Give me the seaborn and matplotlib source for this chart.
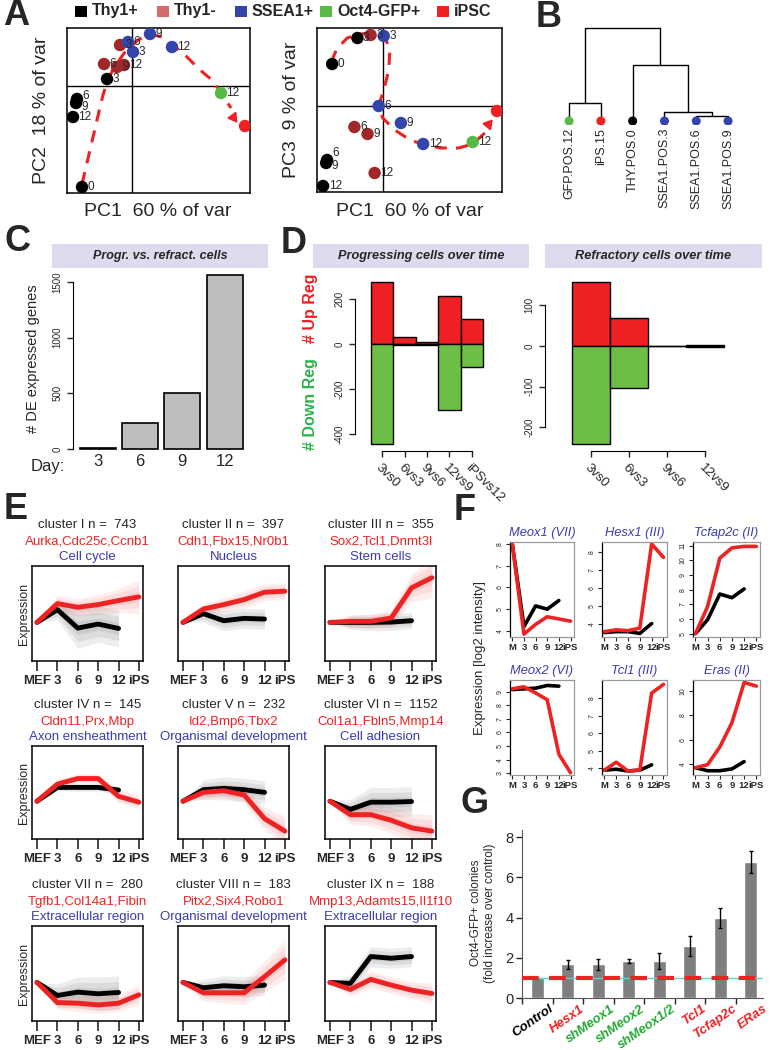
import numpy as np
import pandas as pd
import matplotlib
matplotlib.use('Agg')
import matplotlib.pyplot as plt
from matplotlib.patches import Rectangle
import seaborn as sns

sns.set_style('white')
plt.rcParams['font.family'] = ['Liberation Sans', 'DejaVu Sans']

# ---- A: PCA ----
pca_groups = ['Thy1+', 'Thy1-', 'SSEA1+', 'Oct4-GFP+', 'iPSC']
pca_legend_colors = ['#000000', '#d46a6a', '#3344aa', '#55bb44', '#ee2222']
pca_point_colors = ['#000000', '#a0282a', '#3344aa', '#55bb44', '#ee2222']
pca_group = ['Thy1+'] * 5 + ['Thy1-'] * 4 + ['SSEA1+'] * 4 + ['Oct4-GFP+', 'iPSC']
pca_label = ['0', '3', '6', '9', '12', '3', '6', '9', '12', '3', '6', '9', '12', '12', '']
pc1 = [-5.0, -2.5, -5.5, -5.6, -5.9, -1.2, -2.8, -1.5, -0.8, 0.1, -0.4, 1.8, 4.0, 8.9, 11.3]
pc2 = [-10.1, 0.7, -1.3, -1.7, -3.1, 4.1, 2.2, 1.9, 2.1, 3.4, 4.4, 5.2, 3.9, -0.7, -4.0]
pc3 = [4.2, 6.8, -5.4, -5.7, -8.0, 7.1, -2.1, -2.8, -6.7, 7.0, 0.0, -1.7, -3.8, -3.6, -0.5]
traj2_x = [-5.0, -4.2, -3.5, -2.9, -2.4, -1.7, -0.7, 0.6, 1.8, 3.0, 4.1, 5.5, 6.8, 8.0, 8.9, 9.9]
traj2_y = [-9.8, -6.4, -3.4, -0.9, 0.7, 2.0, 3.4, 4.6, 5.2, 4.9, 4.1, 2.9, 1.6, 0.6, -0.7, -2.2]
traj3_x = [-5.1, -4.5, -3.5, -2.3, -0.8, 0.2, 0.7, 0.6, 0.1, -0.4, 0.0, 1.2, 2.7, 3.9, 5.7, 7.5, 8.9, 10.1]
traj3_y = [4.4, 5.8, 6.8, 7.2, 7.3, 7.0, 5.6, 3.6, 1.6, 0.0, -1.2, -2.4, -3.4, -3.8, -4.2, -4.2, -3.8, -2.7]

# ---- B: dendrogram ----
dend_leaves = ['GFP.POS.12', 'iPS.15', 'THY.POS.0', 'SSEA1.POS.3', 'SSEA1.POS.6', 'SSEA1.POS.9']
dend_leaf_colors = ['#55bb44', '#ee2222', '#000000', '#3344aa', '#3344aa', '#3344aa']
dend_merges = [(4, 5, 5), (3, 6, 9), (0, 1, 18), (2, 7, 56), (8, 9, 93)]

# ---- C: DE genes ----
c_days = ['3', '6', '9', '12']
c_counts = [10, 233, 503, 1563]

# ---- D: up / down regulated ----
d_prog_labels = ['3vs0', '6vs3', '9vs6', '12vs9', 'iPSvs12']
d_prog_up = [276, 31, 10, 213, 111]
d_prog_down = [-444, -3, -5, -293, -102]
d_refr_labels = ['3vs0', '6vs3', '9vs6', '12vs9']
d_refr_up = [158, 69, 0, 3]
d_refr_down = [-242, -104, 0, -3]

# ---- E: clusters ----
e_times = ['MEF', '3', '6', '9', '12', 'iPS']
e_titles = ['cluster I n =  743', 'cluster II n =  397', 'cluster III n =  355',
            'cluster IV n =  145', 'cluster V n =  232', 'cluster VI n =  1152',
            'cluster VII n =  280', 'cluster VIII n =  183', 'cluster IX n =  188']
e_genes = ['Aurka,Cdc25c,Ccnb1', 'Cdh1,Fbx15,Nr0b1', 'Sox2,Tcl1,Dnmt3l',
           'Cldn11,Prx,Mbp', 'Id2,Bmp6,Tbx2', 'Col1a1,Fbln5,Mmp14',
           'Tgfb1,Col14a1,Fibin', 'Pitx2,Six4,Robo1', 'Mmp13,Adamts15,Il1f10']
e_terms = ['Cell cycle', 'Nucleus', 'Stem cells', 'Axon ensheathment', 'Organismal development',
           'Cell adhesion', 'Extracellular region', 'Organismal development', 'Extracellular region']
e_refr = [[0, 38, -17, -5, -18], [0, 26, 5, 12, 10], [0, 0, 0, 1, 5],
          [0, 42, 42, 42, 34], [0, 35, 39, 35, 27], [0, -25, -3, -3, -1],
          [0, -39, -29, -34, -30], [0, -16, -10, -13, -8], [0, -3, 77, 72, 77]]
e_prog = [[0, 56, 45, 53, 65, 76], [0, 40, 53, 68, 90, 93], [0, 3, 3, 13, 103, 133],
          [0, 52, 69, 69, 15, -3], [0, 27, 32, 19, -53, -91], [0, -41, -41, -58, -81, -91],
          [0, -60, -62, -67, -62, -37], [0, -31, -31, -31, 17, 67], [0, -21, 9, -8, -23, -33]]
e_refr_spread = [[0, 30, 60, 55, 55], [0, 25, 30, 30, 30], [0, 20, 25, 25, 25],
                 [0, 10, 12, 12, 12], [0, 30, 35, 35, 35], [0, 30, 45, 45, 45],
                 [0, 35, 45, 50, 50], [0, 25, 30, 30, 30], [0, 25, 30, 30, 30]]
e_prog_spread = [[0, 25, 25, 30, 35, 50], [0, 15, 20, 25, 25, 25], [0, 20, 20, 25, 40, 60],
                 [0, 15, 15, 15, 20, 20], [0, 20, 20, 25, 35, 45], [0, 30, 35, 40, 45, 50],
                 [0, 20, 25, 25, 25, 30], [0, 25, 30, 35, 45, 60], [0, 20, 25, 25, 25, 30]]

# ---- F: single genes ----
f_times = ['M', '3', '6', '9', '12', 'iPS']
f_genes = ['Meox1 (VII)', 'Hesx1 (III)', 'Tcfap2c (II)', 'Meox2 (VI)', 'Tcl1 (III)', 'Eras (II)']
f_prog = [[8.0, 3.85, 4.3, 4.65, 4.55, 4.45], [3.55, 3.65, 3.6, 3.75, 8.45, 7.7],
          [5.0, 6.85, 10.15, 10.85, 10.95, 10.95], [9.2, 9.35, 8.9, 8.4, 4.4, 3.05],
          [3.9, 4.35, 3.85, 3.9, 8.3, 8.8], [3.7, 3.95, 5.4, 7.4, 10.7, 10.4]]
f_refr = [[8.0, 4.2, 5.15, 5.0, 5.4], [3.5, 3.55, 3.55, 3.45, 4.0], [5.0, 5.95, 7.7, 7.45, 8.05],
          [9.15, 9.2, 9.25, 9.45, 9.4], [3.9, 3.95, 3.85, 3.9, 4.2], [3.7, 3.45, 3.45, 3.6, 4.2]]
f_ylim = [(3.72, 8.09), (3.25, 8.56), (4.77, 11.25), (2.88, 9.85), (3.62, 9.05), (3.1, 10.9)]
f_yticks = [[4, 5, 6, 7, 8], [4, 5, 6, 7, 8], [5, 6, 7, 8, 9, 10, 11],
            [3, 4, 5, 6, 7, 8, 9], [4, 5, 6, 7, 8], [4, 6, 8, 10]]

# ---- G: colony assay ----
g_names = ['Control', 'Hesx1', 'shMeox1', 'shMeox2', 'shMeox1/2', 'Tcl1', 'Tcfap2c', 'ERas']
g_fold = [1.0, 1.67, 1.68, 1.82, 1.82, 2.57, 3.96, 6.77]
g_err = [0, 0.21, 0.28, 0.1, 0.4, 0.5, 0.5, 0.56]
g_label_colors = ['black', '#ee2222', '#22aa33', '#22aa33', '#22aa33', '#ee2222', '#ee2222', '#ee2222']

RED = '#ee2222'
BLUE = '#3b3bb0'
STRIP = '#dcdcee'

W, H = 774, 1050
fig = plt.figure(figsize=(W / 100, H / 100), dpi=100)


def px_axes(x0, y0, x1, y1):
    return fig.add_axes([x0 / W, 1 - y1 / H, (x1 - x0) / W, (y1 - y0) / H])


def px_text(x, y, s, **kw):
    fig.text(x / W, 1 - y / H, s, **kw)


def px_rect(x0, y0, x1, y1, color):
    fig.add_artist(Rectangle((x0 / W, 1 - y1 / H), (x1 - x0) / W, (y1 - y0) / H,
                             transform=fig.transFigure, color=color, lw=0))


# panel letters
for letter, x, y in [('A', 3, -2), ('B', 536, 0), ('C', 4, 224), ('D', 281, 226),
                     ('E', 4, 492), ('F', 454, 493), ('G', 461, 786)]:
    px_text(x, y, letter, fontsize=26, fontweight='bold', va='top', ha='left')

# ---------------- A ----------------
for g, c, x in zip(pca_groups, pca_legend_colors, [75, 157, 235, 320, 437]):
    px_rect(x, 6, x + 12, 17, c)
    px_text(x + 17, 11, g, fontsize=11.5, fontweight='bold', va='center')

df_pca = pd.DataFrame(dict(group=pca_group, label=pca_label, pc1=pc1, pc2=pc2, pc3=pc3))
pal = dict(zip(pca_groups, pca_point_colors))
pca_setup = [((67, 28, 250, 193), 'pc2', traj2_x, traj2_y, (10.1, -3.1, -144), (-10.7, 5.8),
              {2: 0.35, 3: -0.35}),
             ((317, 28, 502, 192), 'pc3', traj3_x, traj3_y, (10.4, -1.8, -40), (-8.6, 7.8),
              {2: 0.7, 3: -0.3})]
for box, ycol, tx, ty, arrow, ylim, nudge in pca_setup:
    ax = px_axes(*box)
    ax.plot(tx, ty, color=RED, lw=2.2, dashes=(4, 3), zorder=2)
    ax.plot(arrow[0], arrow[1], marker=(3, 0, arrow[2]), ms=8, color=RED, zorder=2)
    ax.axhline(0, color='black', lw=1, zorder=1)
    ax.axvline(0, color='black', lw=1, zorder=1)
    sns.scatterplot(data=df_pca, x='pc1', y=ycol, hue='group', palette=pal, s=80,
                    edgecolor='none', legend=False, ax=ax, zorder=3)
    for i, row in df_pca.iterrows():
        ax.text(row['pc1'] + 0.55, row[ycol] + nudge.get(i, 0), row['label'], fontsize=8.5,
                va='center')
    ax.set_xlim(-6.5, 11.8)
    ax.set_ylim(*ylim)
    ax.set_xticks([])
    ax.set_yticks([])
    ax.set_xlabel('')
    ax.set_ylabel('')
    for s in ax.spines.values():
        s.set_color('black')
        s.set_linewidth(1.1)
px_text(158, 211, 'PC1  60 % of var', fontsize=14, ha='center', va='center')
px_text(410, 211, 'PC1  60 % of var', fontsize=14, ha='center', va='center')
px_text(42, 110, 'PC2  18 % of var', fontsize=14, ha='center', va='center', rotation=90)
px_text(292, 110, 'PC3  9 % of var', fontsize=14, ha='center', va='center', rotation=90)

# ---------------- B ----------------
ax = px_axes(550, 20, 750, 125)
node_x = list(range(len(dend_leaves)))
node_h = [0] * len(dend_leaves)
for a, b, h in dend_merges:
    ax.plot([node_x[a], node_x[a], node_x[b], node_x[b]], [node_h[a], h, h, node_h[b]],
            color='black', lw=1)
    node_x.append((node_x[a] + node_x[b]) / 2)
    node_h.append(h)
ax.scatter(range(len(dend_leaves)), [0] * len(dend_leaves), c=dend_leaf_colors, s=30, zorder=3)
for i, lab in enumerate(dend_leaves):
    ax.text(i, -7, lab, rotation=90, ha='center', va='top', fontsize=9)
ax.set_xlim(-0.6, 5.69)
ax.set_ylim(-4, 101)
ax.axis('off')

# ---------------- C ----------------
px_rect(52, 244, 268, 268, STRIP)
px_text(160, 256, 'Progr. vs. refract. cells', fontsize=9, fontweight='bold',
        fontstyle='italic', ha='center', va='center')
ax = px_axes(73, 268, 250, 451)
sns.barplot(x=c_days, y=c_counts, color='#bebebe', saturation=1, width=0.85,
            edgecolor='black', linewidth=1.2, ax=ax)
ax.set_xlim(-0.59, 3.6)
ax.set_ylim(-18, 1626)
ax.set_yticks([0, 500, 1000, 1500])
ax.set_yticklabels(['0', '500', '1000', '1500'], rotation=90, va='center', fontsize=7)
ax.tick_params(axis='y', left=True, length=4, width=1, direction='out')
ax.tick_params(axis='x', length=0, labelsize=12, pad=2)
for s in ['top', 'right', 'bottom']:
    ax.spines[s].set_visible(False)
ax.spines['left'].set_bounds(0, 1500)
ax.spines['left'].set_color('black')
ax.set_xlabel('')
ax.set_ylabel('')
px_text(48, 467, 'Day:', fontsize=12, ha='center', va='center')
px_text(33, 359, '# DE expressed genes', fontsize=10.5, rotation=90, ha='center', va='center')

# ---------------- D ----------------
d_setup = [((313, 529), (355, 275, 490, 451), 'Progressing cells over time', d_prog_labels,
            d_prog_up, d_prog_down, (-1.21, 4.81), (-476, 307), [-400, -200, 0, 200]),
           ((545, 762), (545, 275, 730, 451), 'Refractory cells over time', d_refr_labels,
            d_refr_up, d_refr_down, (-1.21, 3.66), (-259, 175), [-200, -100, 0, 100])]
for (sx0, sx1), box, title, labs, up, down, xlim, ylim, yt in d_setup:
    px_rect(sx0, 244, sx1, 268, STRIP)
    px_text((sx0 + sx1) / 2, 256, title, fontsize=9.2, fontweight='bold', fontstyle='italic',
            ha='center', va='center')
    ax = px_axes(*box)
    sns.barplot(x=labs, y=up, color='#ee2024', saturation=1, width=1, edgecolor='black',
                linewidth=1, ax=ax)
    sns.barplot(x=labs, y=down, color='#6dbe45', saturation=1, width=1, edgecolor='black',
                linewidth=1, ax=ax)
    ax.set_xlim(*xlim)
    ax.set_ylim(*ylim)
    ax.set_yticks(yt)
    ax.set_yticklabels([str(v) for v in yt], rotation=90, va='center', fontsize=7)
    ax.set_xticks(range(len(labs)))
    ax.set_xticklabels(labs, rotation=-45, ha='left', va='top', rotation_mode='anchor', fontsize=9.5)
    ax.tick_params(axis='both', length=4, width=1, direction='out', left=True, bottom=True)
    for s in ['top', 'right']:
        ax.spines[s].set_visible(False)
    ax.spines['left'].set_bounds(yt[0], yt[-1])
    ax.spines['bottom'].set_bounds(0, len(labs) - 1)
    for s in ['left', 'bottom']:
        ax.spines[s].set_color('black')
    ax.set_xlabel('')
    ax.set_ylabel('')
px_text(310, 308, '# Up Reg', color='#ee2024', fontsize=11.5, fontweight='bold', rotation=90,
        ha='center', va='center')
px_text(310, 404, '# Down Reg', color='#2db34a', fontsize=11.5, fontweight='bold', rotation=90,
        ha='center', va='center')

# ---------------- E ----------------
e_cols = [32, 178, 325]
e_rows = [(566, 661), (746, 839), (926, 1021)]
for k in range(9):
    r, c = divmod(k, 3)
    x0 = e_cols[c]
    y0, y1 = e_rows[r]
    ax = px_axes(x0, y0, x0 + 111, y1)
    xb = np.arange(len(e_refr[k]))
    xr = np.arange(len(e_prog[k]))
    mb, sb = np.array(e_refr[k], float), np.array(e_refr_spread[k], float)
    mr, sr = np.array(e_prog[k], float), np.array(e_prog_spread[k], float)
    for frac in (1.0, 0.66, 0.33):
        ax.fill_between(xb, mb - frac * sb, mb + frac * sb, color='black', alpha=0.07, lw=0)
        ax.fill_between(xr, mr - frac * sr, mr + frac * sr, color=RED, alpha=0.08, lw=0)
    sns.lineplot(x=xb, y=mb, color='black', lw=3.5, ax=ax)
    sns.lineplot(x=xr, y=mr, color=RED, lw=3.5, ax=ax)
    ax.set_xlim(-0.245, 5.2)
    ax.set_ylim(-115, 168)
    ax.set_xticks(range(6))
    ax.set_xticklabels(e_times, fontsize=9.5, fontweight='bold')
    ax.set_yticks([])
    ax.tick_params(axis='x', bottom=True, length=7, width=1.2, direction='out', pad=3)
    for s in ax.spines.values():
        s.set_color('black')
        s.set_linewidth(1.1)
    ax.set_xlabel('')
    ax.set_ylabel('')
    cx = x0 + 55.5
    px_text(cx, y0 - 41, e_titles[k], fontsize=9.5, ha='center', va='center')
    px_text(cx, y0 - 24, e_genes[k], fontsize=9.5, ha='center', va='center', color=RED)
    px_text(cx, y0 - 9, e_terms[k], fontsize=9.5, ha='center', va='center', color=BLUE)
    if c == 0:
        px_text(24, (y0 + y1) / 2, 'Expression', fontsize=9, rotation=90, ha='center', va='center')

# ---------------- F ----------------
f_cols = [(510, 574), (602, 667), (693, 760)]
f_rows = [(542, 637), (680, 775)]
for k in range(6):
    r, c = divmod(k, 3)
    x0, x1 = f_cols[c]
    y0, y1 = f_rows[r]
    ax = px_axes(x0, y0, x1, y1)
    sns.lineplot(x=np.arange(5), y=f_refr[k], color='black', lw=2.6, ax=ax)
    sns.lineplot(x=np.arange(6), y=f_prog[k], color=RED, lw=2.6, ax=ax)
    ax.set_xlim(-0.2, 5.3)
    ax.set_ylim(*f_ylim[k])
    ax.set_xticks(range(6))
    ax.set_xticklabels(f_times, fontsize=6.8, fontweight='bold')
    ax.set_yticks(f_yticks[k])
    ax.set_yticklabels([str(v) for v in f_yticks[k]], rotation=90, va='center', fontsize=5)
    ax.tick_params(axis='both', length=3, width=0.8, direction='out', left=True, bottom=True, pad=1.5)
    for s in ax.spines.values():
        s.set_color('#999999')
        s.set_linewidth(0.9)
    ax.spines['left'].set_color('black')
    ax.set_xlabel('')
    ax.set_ylabel('')
    px_text((x0 + x1) / 2, y0 - 9, f_genes[k], fontsize=9.3, fontstyle='italic', color=BLUE,
            ha='center', va='center')
px_text(480, 658, 'Expression [log2 intensity]', fontsize=9.5, rotation=90, ha='center', va='center')

# ---------------- G ----------------
ax = px_axes(522, 830, 763, 998)
sns.barplot(x=g_names, y=g_fold, color='#7f7f7f', saturation=1, width=0.42, ax=ax)
ax.errorbar(range(len(g_names)), g_fold, yerr=g_err, fmt='none', ecolor='black', elinewidth=1,
            capsize=1.5)
ax.axhline(1.0, color='#66cccc', lw=1, zorder=4)
ax.axhline(1.0, color=RED, lw=3, dashes=(4, 2.5), zorder=5)
ax.set_xlim(-0.5, 7.4)
ax.set_ylim(0, 8.35)
ax.set_yticks([0, 2, 4, 6, 8])
ax.set_yticklabels(['0', '2', '4', '6', '8'], fontsize=10.5)
ax.set_xticks(np.arange(8) - 0.5)
ax.set_xticklabels([])
ax.tick_params(axis='both', length=4, width=1, direction='out', left=True, bottom=True, pad=2)
for s in ['top', 'right']:
    ax.spines[s].set_visible(False)
for s in ['left', 'bottom']:
    ax.spines[s].set_color('#555555')
ax.set_xlabel('')
ax.set_ylabel('')
for i, (name, col) in enumerate(zip(g_names, g_label_colors)):
    ax.text(i + 0.38, -0.25, name, color=col, fontsize=9.5, fontweight='bold', fontstyle='italic',
            rotation=35, ha='right', va='top', rotation_mode='anchor')
px_text(483, 913, 'Oct4-GFP+ colonies\n(fold increase over control)', fontsize=8.5, rotation=90,
        ha='center', va='center', linespacing=1.15)

fig.savefig('out.png', dpi=100)
